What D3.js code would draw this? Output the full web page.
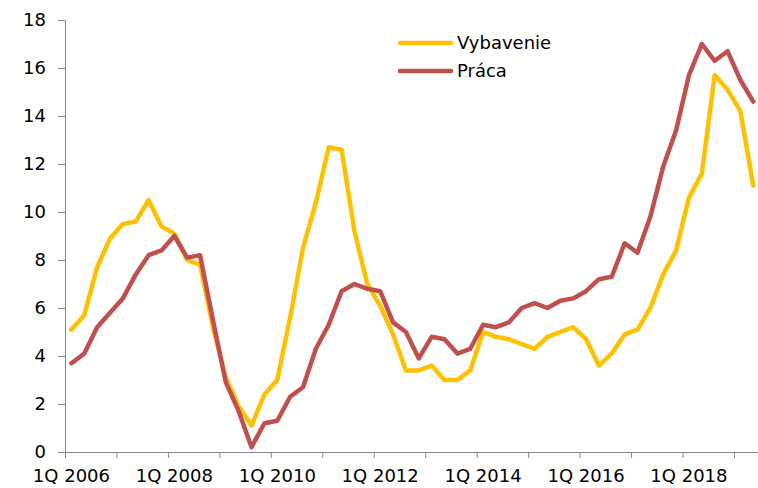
<!DOCTYPE html>
<html>
<head>
<meta charset="utf-8">
<script src="https://cdn.jsdelivr.net/npm/d3@7"></script>
<style>
  body { margin: 0; background: #fff; }
  svg { display: block; font-family: "DejaVu Sans", Verdana, sans-serif; }
  .axis path, .axis line { stroke: #868686; }
  .axis text { font-size: 18px; fill: #000; font-family: "DejaVu Sans", Verdana, sans-serif; }
  .legend-label { font-size: 18px; fill: #000; }
</style>
</head>
<body>
<svg id="chart" width="758" height="488"></svg>
<script>
// Quarters 1Q 2006 .. 2Q 2019
const quarters = [];
for (let year = 2006; year <= 2019; year++) {
  for (let q = 1; q <= 4; q++) {
    if (year === 2019 && q > 2) break;
    quarters.push(`${q}Q ${year}`);
  }
}

const vybavenie = [
  5.1, 5.7, 7.7, 8.9, 9.5, 9.6, 10.5, 9.4, 9.1, 8.0, 7.8, 5.2,
  3.1, 1.9, 1.1, 2.4, 3.0, 5.6, 8.5, 10.4, 12.7, 12.6, 9.2, 7.0,
  6.1, 4.9, 3.4, 3.4, 3.6, 3.0, 3.0, 3.4, 5.0, 4.8, 4.7, 4.5,
  4.3, 4.8, 5.0, 5.2, 4.7, 3.6, 4.1, 4.9, 5.1, 6.0, 7.4, 8.4,
  10.6, 11.6, 15.7, 15.1, 14.2, 11.1
];

const praca = [
  3.7, 4.1, 5.2, 5.8, 6.4, 7.4, 8.2, 8.4, 9.0, 8.1, 8.2, 5.5,
  2.9, 1.7, 0.2, 1.2, 1.3, 2.3, 2.7, 4.3, 5.3, 6.7, 7.0, 6.8,
  6.7, 5.4, 5.0, 3.9, 4.8, 4.7, 4.1, 4.3, 5.3, 5.2, 5.4, 6.0,
  6.2, 6.0, 6.3, 6.4, 6.7, 7.2, 7.3, 8.7, 8.3, 9.8, 11.9, 13.4,
  15.7, 17.0, 16.3, 16.7, 15.5, 14.6
];

const series = [
  { name: "Vybavenie", values: vybavenie, color: "#FFC000" },
  { name: "Práca", values: praca, color: "#C0504D" }
];

const yTicks = [0, 2, 4, 6, 8, 10, 12, 14, 16, 18];

// Layout
const plot = { left: 65, right: 759.7, top: 20, bottom: 452 };
const svg = d3.select("#chart");

// Scales
const x = d3.scaleBand()
  .domain(quarters)
  .range([plot.left, plot.right])
  .padding(0);

const xIndex = d3.scaleLinear()
  .domain([0, quarters.length])
  .range([plot.left, plot.right]);

const y = d3.scaleLinear()
  .domain([0, 18])
  .range([plot.bottom, plot.top]);

// Y axis
svg.append("g")
  .attr("class", "axis")
  .attr("transform", `translate(${plot.left},0)`)
  .call(d3.axisLeft(y).tickValues(yTicks).tickSize(7).tickSizeOuter(0).tickPadding(12));

// X axis - tick marks between years
svg.append("g")
  .attr("class", "axis")
  .attr("transform", `translate(0,${plot.bottom})`)
  .call(d3.axisBottom(xIndex)
    .tickValues(d3.range(0, quarters.length, 4))
    .tickSize(6)
    .tickSizeOuter(0)
    .tickFormat(""));

// X axis - labels every 2 years
svg.append("g")
  .attr("class", "axis x-labels")
  .attr("transform", `translate(0,${plot.bottom})`)
  .call(d3.axisBottom(x)
    .tickValues(quarters.filter((d, i) => i % 8 === 0))
    .tickSize(0)
    .tickPadding(17))
  .call(g => g.select(".domain").remove());

// Lines
const line = d3.line()
  .x((d, i) => x(quarters[i]) + x.bandwidth() / 2)
  .y(d => y(d));

series.forEach(s => {
  svg.append("path")
    .datum(s.values)
    .attr("fill", "none")
    .attr("stroke", s.color)
    .attr("stroke-width", 4.5)
    .attr("stroke-linejoin", "round")
    .attr("stroke-linecap", "round")
    .attr("d", line);
});

// Legend
const legend = svg.append("g")
  .attr("transform", "translate(400,43)");

series.forEach((s, i) => {
  const row = legend.append("g")
    .attr("transform", `translate(0,${i * 28})`);
  row.append("line")
    .attr("x1", 0)
    .attr("x2", 51)
    .attr("stroke", s.color)
    .attr("stroke-width", 4.5)
    .attr("stroke-linecap", "round");
  row.append("text")
    .attr("class", "legend-label")
    .attr("x", 57)
    .attr("dy", "0.35em")
    .text(s.name);
});
</script>
</body>
</html>
